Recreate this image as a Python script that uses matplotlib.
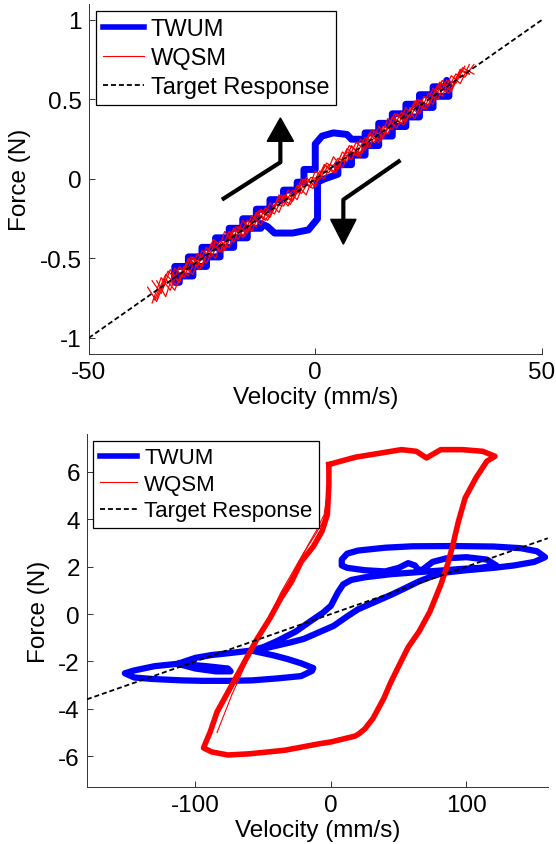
import matplotlib
matplotlib.use('Agg')
import matplotlib.pyplot as plt
from matplotlib.lines import Line2D

plt.rcParams['font.family'] = ['Liberation Sans', 'DejaVu Sans']

# ---- top panel data (velocity mm/s, force N) ----
target_v_top = [-50, 50]
target_f_top = [-1.0, 1.0]

twum_v_top = [-31, -31, -28, -28, -25, -25, -22, -22, -19, -19, -16, -16, -13, -13, -10, -10, -7, -7, -4, -4,
              -2.5, -2.5, 0, 0, 1.5, 4, 7, 8, 11, 11, 14, 14, 17, 17, 20, 20, 23, 23, 26, 26, 29, 29,
              29.5, 29.5, 26, 26, 23, 23, 20, 20, 17, 17, 14, 14, 11, 11, 8, 8, 5, 5, 2, 0.5,
              0.5, -1.5, -5, -9, -10.5, -12, -12, -15, -15, -18, -18, -21, -21, -24, -24, -27, -27, -30, -30, -31, -31]
twum_f_top = [-0.62, -0.55, -0.55, -0.49, -0.49, -0.43, -0.43, -0.37, -0.37, -0.31, -0.31, -0.25, -0.25, -0.19, -0.19, -0.13, -0.13, -0.07, -0.07, -0.02,
              -0.02, 0.06, 0.06, 0.22, 0.27, 0.29, 0.28, 0.25, 0.25, 0.29, 0.29, 0.35, 0.35, 0.41, 0.41, 0.47, 0.47, 0.53, 0.53, 0.58, 0.58, 0.62,
              0.58, 0.52, 0.52, 0.45, 0.45, 0.39, 0.39, 0.33, 0.33, 0.27, 0.27, 0.21, 0.21, 0.15, 0.15, 0.09, 0.09, 0.03, 0.0, -0.02,
              -0.25, -0.32, -0.34, -0.34, -0.30, -0.28, -0.31, -0.31, -0.37, -0.37, -0.43, -0.43, -0.49, -0.49, -0.55, -0.55, -0.61, -0.61, -0.65, -0.65, -0.60]

wqsm_v_a = [-36, -34, -32, -30, -28, -26, -24, -22, -20, -18, -16, -14, -12, -10, -8, -6, -4, -2,
            0, 2, 4, 6, 8, 10, 12, 14, 16, 18, 20, 22, 24, 26, 28, 30, 32, 34]
wqsm_f_a = [-0.64, -0.72, -0.57, -0.65, -0.50, -0.55, -0.43, -0.50, -0.33, -0.40, -0.26, -0.33, -0.19, -0.24, -0.10, -0.17, -0.04, -0.10,
            0.05, 0.00, 0.14, 0.07, 0.21, 0.14, 0.28, 0.23, 0.38, 0.32, 0.45, 0.38, 0.52, 0.47, 0.62, 0.56, 0.68, 0.66]
wqsm_v_b = [33, 31, 29, 27, 25, 23, 21, 19, 17, 15, 13, 11, 9, 7, 5, 3, 1, -1, -3, -5, -7, -9, -11, -13,
            -15, -17, -19, -21, -23, -25, -27, -29, -31, -33, -35]
wqsm_f_b = [0.71, 0.60, 0.62, 0.50, 0.54, 0.41, 0.45, 0.35, 0.38, 0.27, 0.30, 0.18, 0.23, 0.11, 0.13, 0.04, 0.05, -0.05, 0.0, -0.13, -0.10, -0.22, -0.18, -0.30,
            -0.26, -0.38, -0.33, -0.46, -0.41, -0.55, -0.49, -0.62, -0.56, -0.74, -0.64]
wqsm_v_c = [-37, -35, -33, -31, -29, -27, -25, -23, -21, -19, -17, -15, -13, -11, -9, -7, -5, -3, -1,
            1, 3, 5, 7, 9, 11, 13, 15, 17, 19, 21, 23, 25, 27, 29, 31, 33, 35]
wqsm_f_c = [-0.68, -0.77, -0.63, -0.70, -0.55, -0.60, -0.45, -0.49, -0.39, -0.43, -0.30, -0.33, -0.22, -0.26, -0.16, -0.17, -0.07, -0.09, 0.01,
            0.00, 0.09, 0.08, 0.17, 0.15, 0.26, 0.23, 0.33, 0.31, 0.42, 0.39, 0.50, 0.46, 0.58, 0.55, 0.66, 0.64, 0.72]
wqsm_v_d = [34, 32, 30, 28, 26, 24, 22, 20, 18, 16, 14, 12, 10, 8, 6, 4, 2, 0,
            -2, -4, -6, -8, -10, -12, -14, -16, -18, -20, -22, -24, -26, -28, -30, -32, -34, -36]
wqsm_f_d = [0.72, 0.60, 0.65, 0.52, 0.57, 0.44, 0.49, 0.36, 0.41, 0.28, 0.33, 0.20, 0.25, 0.12, 0.17, 0.04, 0.09, -0.05,
            0.01, -0.13, -0.07, -0.21, -0.15, -0.29, -0.23, -0.37, -0.31, -0.45, -0.39, -0.53, -0.47, -0.61, -0.55, -0.70, -0.62, -0.78]
wqsm_v_e = [-35.5, -33, -30.5, -28, -25.5, -23, -20.5, -18, -15.5, -13, -10.5, -8, -5.5, -3, -0.5,
            2, 4.5, 7, 9.5, 12, 14.5, 17, 19.5, 22, 24.5, 27, 29.5, 32, 34]
wqsm_f_e = [-0.76, -0.60, -0.67, -0.50, -0.57, -0.41, -0.46, -0.31, -0.36, -0.21, -0.26, -0.11, -0.16, -0.02, -0.06,
            0.09, 0.04, 0.19, 0.14, 0.29, 0.24, 0.39, 0.34, 0.49, 0.44, 0.59, 0.54, 0.69, 0.66]
wqsm_v_f = [35, 32.5, 30, 27.5, 25, 22.5, 20, 17.5, 15, 12.5, 10, 7.5, 5, 2.5, 0,
            -2.5, -5, -7.5, -10, -12.5, -15, -17.5, -20, -22.5, -25, -27.5, -30, -32.5, -35]
wqsm_f_f = [0.66, 0.70, 0.55, 0.61, 0.46, 0.50, 0.36, 0.41, 0.26, 0.31, 0.16, 0.21, 0.06, 0.10, -0.04,
            0.00, -0.14, -0.10, -0.24, -0.20, -0.34, -0.30, -0.44, -0.38, -0.55, -0.49, -0.65, -0.58, -0.75]

# ---- bottom panel data ----
target_v_bot = [-180, 160]
target_f_bot = [-3.6, 3.2]

twum_v_bot = [-58, -45, -30, -20, -8, 2, 12, 20, 30, 44, 55, 65, 75, 84,
              100, 120, 135, 150, 158,
              152, 140, 120, 90, 60, 40, 20, 12, 8, 8, 12,
              25, 40, 50, 57, 62, 64, 67,
              75, 85, 100, 115, 122, 110, 95, 84,
              60, 44, 25, 15, 9, 5, 0, -6, -15, -26, -40, -50, -60,
              -75, -88, -100, -113, -100, -85, -74, -76, -92, -113, -130, -145, -152,
              -145, -132, -110, -95, -75, -58, -40, -22, -14, -13,
              -22, -32, -42, -50, -58]
twum_f_bot = [-1.55, -1.4, -1.2, -1.05, -0.75, -0.5, -0.1, 0.2, 0.45, 0.8, 1.1, 1.38, 1.6, 1.75,
              1.85, 1.95, 2.05, 2.2, 2.4,
              2.65, 2.78, 2.85, 2.87, 2.86, 2.8, 2.68, 2.55, 2.3, 2.05, 1.95,
              1.85, 1.8, 1.95, 2.15, 2.05, 1.9, 1.85,
              2.2, 2.35, 2.4, 2.3, 2.05, 1.95, 1.9, 1.85,
              1.75, 1.68, 1.55, 1.44, 1.25, 0.9, 0.35, 0.05, -0.3, -0.74, -1.15, -1.4, -1.55,
              -1.65, -1.73, -1.85, -2.1, -2.3, -2.42, -2.42, -2.3, -2.2, -2.1, -2.2, -2.38, -2.5,
              -2.68, -2.74, -2.8, -2.82, -2.82, -2.8, -2.72, -2.62, -2.4, -2.28,
              -2.08, -1.9, -1.75, -1.65, -1.55]

wqsm_v_bot = [-1.5, 2.6, 18, 52, 63, 70.5, 81, 97, 112, 121,
              115, 107, 99, 94, 90, 86, 81, 73, 65, 57, 50, 44, 39, 31, 25, 21,
              18, 0, -8, -34, -60, -76, -88, -94,
              -89, -84, -76, -65, -55, -45, -37, -29, -22, -13, -6.5, -2.6, -1.5, -1.5]
wqsm_f_bot = [6.31, 6.38, 6.62, 6.94, 6.87, 6.59, 6.94, 6.94, 6.87, 6.66,
              6.45, 5.75, 4.9, 3.9, 2.93, 2.08, 1.23, 0.1, -0.74, -1.4, -2.2, -2.9, -3.56, -4.41, -4.85, -5.04,
              -5.15, -5.4, -5.47, -5.75, -5.9, -5.95, -5.82, -5.65,
              -4.97, -4.13, -3.3, -2.15, -1.1, -0.18, 0.66, 1.37, 2.2, 2.85, 3.5, 4.2, 5.47, 6.31]
wqsm_v_fan1 = [-92, -86, -78, -68, -58, -50, -42, -33, -25, -17, -10, -5, -3, -2]
wqsm_f_fan1 = [-5.5, -4.6, -3.6, -2.4, -1.3, -0.6, 0.3, 1.2, 2.0, 2.9, 3.6, 4.2, 5.0, 6.2]
wqsm_v_fan2 = [-84, -73, -62, -53, -45, -37, -28, -20, -12, -6, -2, -1]
wqsm_f_fan2 = [-5.0, -3.4, -2.0, -1.0, -0.1, 0.9, 1.8, 2.6, 3.3, 3.9, 4.6, 5.5]

fig = plt.figure(figsize=(5.56, 8.45), dpi=100)
ax1 = fig.add_axes([0.1595, 0.58, 0.815, 0.414])
ax2 = fig.add_axes([0.1563, 0.0675, 0.829, 0.4177])

dash = (0, (2.8, 1.6))

# top
ax1.plot(twum_v_top, twum_f_top, color='#0000ff', lw=5, solid_joinstyle='round', zorder=2)
for v, f in [(wqsm_v_a, wqsm_f_a), (wqsm_v_b, wqsm_f_b), (wqsm_v_c, wqsm_f_c),
             (wqsm_v_d, wqsm_f_d), (wqsm_v_e, wqsm_f_e), (wqsm_v_f, wqsm_f_f)]:
    ax1.plot(v, f, color='#ff0000', lw=0.9, zorder=3)
ax1.plot(target_v_top, target_f_top, color='k', lw=1.3, linestyle=dash, zorder=4)

# direction arrows
ax1.plot([-20.6, -7.7, -7.7], [-0.13, 0.105, 0.25], color='k', lw=3, solid_capstyle='butt', zorder=5)
ax1.fill([-10.6, -4.8, -7.7], [0.237, 0.237, 0.384], color='k', zorder=5)
ax1.plot([18.8, 6.2, 6.2], [0.118, -0.13, -0.26], color='k', lw=3, solid_capstyle='butt', zorder=5)
ax1.fill([3.4, 9.0, 6.2], [-0.254, -0.254, -0.41], color='k', zorder=5)

ax1.set_xlim(-50, 50)
ax1.set_ylim(-1.1, 1.1)
ax1.set_xticks([-50, 0, 50])
ax1.set_yticks([-1, -0.5, 0, 0.5, 1])
ax1.set_yticklabels(['-1', '-0.5', '0', '0.5', '1'])
ax1.set_xticklabels(['-50', '0', '50'])
ax1.set_xlabel('Velocity (mm/s)', fontsize=17.5, labelpad=2)
ax1.set_ylabel('Force (N)', fontsize=17.5, labelpad=6)

# bottom
ax2.plot(twum_v_bot, twum_f_bot, color='#0000ff', lw=4.5, solid_joinstyle='round', zorder=2)
ax2.plot(wqsm_v_bot, wqsm_f_bot, color='#ff0000', lw=4, solid_joinstyle='round', zorder=3)
ax2.plot(wqsm_v_fan1, wqsm_f_fan1, color='#ff0000', lw=0.8, zorder=3)
ax2.plot(wqsm_v_fan2, wqsm_f_fan2, color='#ff0000', lw=0.8, zorder=3)
ax2.plot(target_v_bot, target_f_bot, color='k', lw=1.3, linestyle=dash, zorder=4)

ax2.set_xlim(-180, 160)
ax2.set_ylim(-7.3, 7.6)
ax2.set_xticks([-100, 0, 100])
ax2.set_yticks([-6, -4, -2, 0, 2, 4, 6])
ax2.set_xticklabels(['-100', '0', '100'])
ax2.set_yticklabels(['-6', '-4', '-2', '0', '2', '4', '6'])
ax2.set_xlabel('Velocity (mm/s)', fontsize=17.5, labelpad=2)
ax2.set_ylabel('Force (N)', fontsize=17.5, labelpad=6)

handles = [Line2D([], [], color='#0000ff', lw=4),
           Line2D([], [], color='#ff0000', lw=0.8),
           Line2D([], [], color='k', lw=1.3, linestyle=dash)]
names = ['TWUM', 'WQSM', 'Target Response']

for ax, fs, sp, anchor in [(ax1, 17, 0.3, (0.017, 0.981)), (ax2, 16, 0.25, (0.013, 0.981))]:
    for side in ['top', 'right']:
        ax.spines[side].set_visible(False)
    for side in ['left', 'bottom']:
        ax.spines[side].set_linewidth(0.7)
        ax.spines[side].set_color('#333333')
    ax.tick_params(direction='in', length=4, width=0.7, color='#333333', labelsize=17.5, pad=5)
    leg = ax.legend(handles, names, loc='upper left', bbox_to_anchor=anchor, borderaxespad=0,
                    fontsize=fs, frameon=True, fancybox=False, framealpha=1, edgecolor='k',
                    handlelength=1.7, handletextpad=0.3, labelspacing=sp, borderpad=0.3)
    leg.get_frame().set_linewidth(0.9)

fig.savefig('out.png', dpi=100)
